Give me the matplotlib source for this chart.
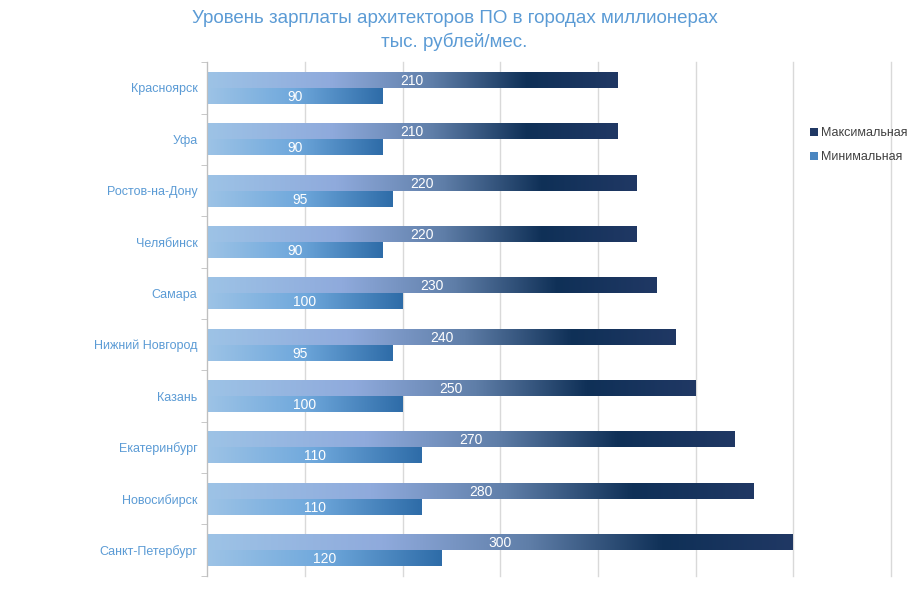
import matplotlib
matplotlib.use("Agg")
import matplotlib.pyplot as plt
import numpy as np
from matplotlib.colors import LinearSegmentedColormap
from matplotlib.patches import Patch

plt.rcParams['font.family'] = ['Liberation Sans', 'DejaVu Sans']

# data
cities = ["Красноярск", "Уфа", "Ростов-на-Дону", "Челябинск", "Самара",
          "Нижний Новгород", "Казань", "Екатеринбург", "Новосибирск",
          "Санкт-Петербург"]
max_salary = [210, 210, 220, 220, 230, 240, 250, 270, 280, 300]
min_salary = [90, 90, 95, 90, 100, 95, 100, 110, 110, 120]

title_color = "#5b9bd5"
cmap_max = LinearSegmentedColormap.from_list(
    "mx", [(0, "#9dc3e6"), (0.3, "#8faadc"), (0.55, "#5f7ea8"),
           (0.78, "#0f3057"), (1, "#203864")])
cmap_min = LinearSegmentedColormap.from_list(
    "mn", [(0, "#9dc3e6"), (0.5, "#6fa8dc"), (1, "#2e6ca8")])
grad = np.linspace(0, 1, 256).reshape(1, -1)

fig = plt.figure(figsize=(9.09, 5.93), dpi=100)
ax = fig.add_axes([0.228, 0.029, 0.752, 0.866])

y = np.arange(len(cities))
h = 0.31

def gradient_bars(vals, offset, cmap):
    bars = ax.barh(y + offset, vals, height=h, facecolor="none", edgecolor="none", zorder=2)
    for b, v in zip(bars, vals):
        x0, y0, w, hh = b.get_x(), b.get_y(), b.get_width(), b.get_height()
        im = ax.imshow(grad, cmap=cmap, aspect="auto", interpolation="bicubic",
                       extent=(x0, x0 + w, y0 + hh, y0), zorder=2)
        im.set_clip_path(b)
        ax.text(x0 + w / 2, y0 + hh / 2 + 0.02, str(v), ha="center", va="center",
                color="white", fontsize=10, zorder=3)
    return bars

gradient_bars(max_salary, -h / 2, cmap_max)
gradient_bars(min_salary, h / 2, cmap_min)

ax.set_xlim(0, 350)
ax.set_ylim(len(cities) - 0.5, -0.5)
ax.set_xticks(np.arange(0, 351, 50))
ax.set_xticklabels([])
ax.tick_params(axis="x", length=0)
ax.xaxis.grid(True, color="#d9d9d9", linewidth=1)
for gl in ax.get_xgridlines():
    gl.set_clip_on(False)
ax.set_axisbelow(True)

ax.set_yticks(y)
ax.set_yticklabels(cities, color=title_color, fontsize=9)
ax.tick_params(axis="y", length=0, pad=7)
ax.set_yticks(np.arange(-0.5, len(cities)), minor=True)
ax.tick_params(axis="y", which="minor", length=4, color="#bfbfbf")

for s in ["top", "right", "bottom"]:
    ax.spines[s].set_visible(False)
ax.spines["left"].set_color("#bfbfbf")

fig.text(0.5, 0.968, "Уровень зарплаты архитекторов ПО в городах миллионерах",
         ha="center", va="center", fontsize=13.5, color=title_color)
fig.text(0.5, 0.93, "тыс. рублей/мес.", ha="center", va="center",
         fontsize=13.5, color=title_color)

handles = [Patch(facecolor="#203864", label="Максимальная"),
           Patch(facecolor="#4a86c0", label="Минимальная")]
leg = fig.legend(handles=handles, loc="upper left", bbox_to_anchor=(0.882, 0.800),
                 frameon=False, fontsize=9, handlelength=0.6, handleheight=0.6,
                 handletextpad=0.25, labelspacing=0.95, borderpad=0.2)
for t in leg.get_texts():
    t.set_color("#404040")

fig.savefig("out.png", dpi=100)
